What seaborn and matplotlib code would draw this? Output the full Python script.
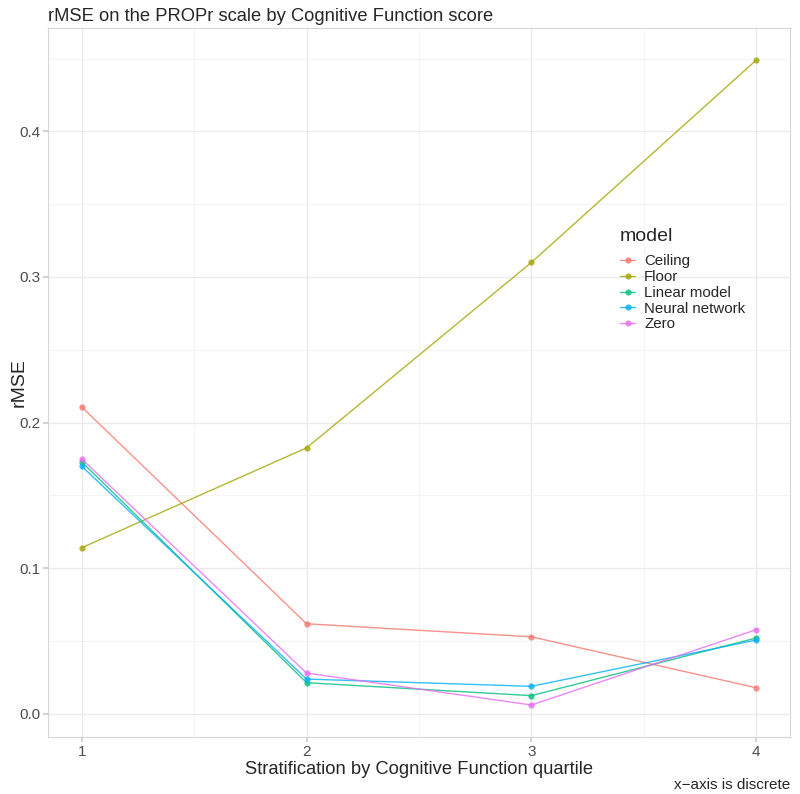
import pandas as pd
import numpy as np
import matplotlib
matplotlib.use('Agg')
import matplotlib.pyplot as plt
import seaborn as sns

# values
quartiles = [1, 2, 3, 4]
models = ['Ceiling', 'Floor', 'Linear model', 'Neural network', 'Zero']
ceiling = [0.2107, 0.0618, 0.0528, 0.0178]
floor = [0.1140, 0.1826, 0.3100, 0.4490]
linear_model = [0.1730, 0.0213, 0.0124, 0.0520]
neural_network = [0.1700, 0.0238, 0.0188, 0.0506]
zero = [0.1750, 0.0279, 0.0060, 0.0577]

colors = ['#F8766D', '#A3A500', '#00BF7D', '#00B0F6', '#E76BF3']

df = pd.DataFrame({
    'quartile': quartiles * 5,
    'rMSE': ceiling + floor + linear_model + neural_network + zero,
    'model': np.repeat(models, 4),
})

sns.set_theme(style='white')
plt.rcParams['font.family'] = ['Liberation Sans', 'DejaVu Sans']

fig = plt.figure(figsize=(8, 7.94), dpi=100)
ax = fig.add_axes([0.06, 0.0718, 0.9275, 0.8929])

sns.lineplot(data=df, x='quartile', y='rMSE', hue='model', palette=colors,
             marker='o', markersize=4.5, markeredgewidth=0, linewidth=1.0,
             alpha=0.8, ax=ax)

ax.set_xlim(0.85, 4.15)
ax.set_ylim(-0.016, 0.471)
ax.set_xticks(quartiles)
ax.set_xticks([1.5, 2.5, 3.5], minor=True)
ax.set_yticks([0.0, 0.1, 0.2, 0.3, 0.4])
ax.set_yticks([0.05, 0.15, 0.25, 0.35, 0.45], minor=True)
ax.set_yticklabels(['0.0', '0.1', '0.2', '0.3', '0.4'])
ax.grid(True, which='major', color='#ebebeb', linewidth=1.0)
ax.grid(True, which='minor', color='#f3f3f3', linewidth=0.6)
ax.set_axisbelow(True)
for s in ax.spines.values():
    s.set_color('#d6d6d6')
    s.set_linewidth(0.8)
ax.tick_params(axis='both', which='major', length=3.5, color='#cccccc', pad=2,
               labelsize=11, labelcolor='#4d4d4d', bottom=True, left=True)
ax.tick_params(which='minor', length=0)

ax.set_xlabel('Stratification by Cognitive Function quartile', fontsize=13.2, labelpad=2)
ax.set_ylabel('rMSE', fontsize=14)
ax.yaxis.set_label_coords(-0.028, 0.5)
fig.text(0.06, 0.969, 'rMSE on the PROPr scale by Cognitive Function score',
         fontsize=13.2, ha='left', va='bottom')
fig.text(0.9875, 0.003, 'x\u2212axis is discrete', fontsize=11, ha='right', va='bottom')

leg = ax.legend(title='model', loc='upper left', bbox_to_anchor=(0.763, 0.727),
                frameon=False, fontsize=10.8, title_fontsize=14,
                handlelength=1.0, handletextpad=0.6, labelspacing=0.12,
                borderaxespad=0)
leg._legend_box.align = 'left'
leg._legend_box.sep = 7

fig.savefig('out.png', dpi=100)
